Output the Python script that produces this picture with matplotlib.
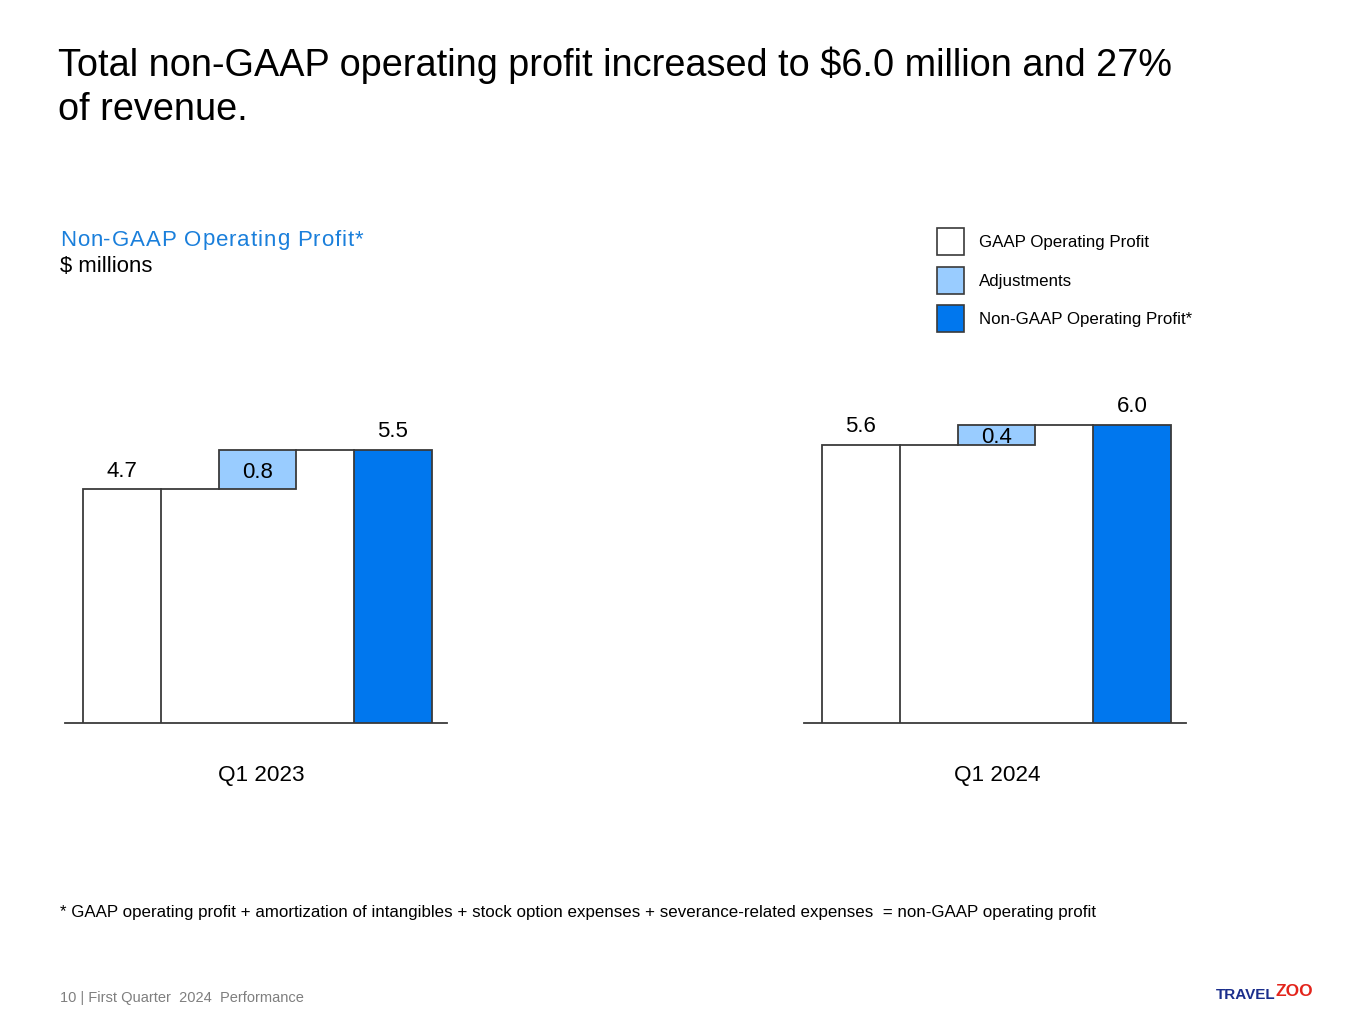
import matplotlib
matplotlib.use("Agg")
import matplotlib.pyplot as plt
from matplotlib.patches import Rectangle

plt.rcParams['font.family'] = ['Liberation Sans', 'DejaVu Sans']

# ---- data ----
periods = ["Q1 2023", "Q1 2024"]
gaap_profit = [4.7, 5.6]
adjustments = [0.8, 0.4]
non_gaap_profit = [5.5, 6.0]
legend_labels = ["GAAP Operating Profit", "Adjustments", "Non-GAAP Operating Profit*"]

title = "Total non-GAAP operating profit increased to $6.0 million and 27%\nof revenue."
subtitle = "Non-GAAP Operating Profit*"
units = "$ millions"
footnote = ("* GAAP operating profit + amortization of intangibles + stock option expenses "
            "+ severance-related expenses  = non-GAAP operating profit")
footer = "10 | First Quarter  2024  Performance"

# ---- styles ----
W, H = 1365, 1024
C_GAAP = "#FFFFFF"
C_ADJ = "#99CCFF"
C_NON = "#0077EE"
EDGE = "#3A3A3A"
BLUE_TXT = "#1A7FDB"

fig = plt.figure(figsize=(W / 100, H / 100), dpi=100)
fig.patch.set_facecolor("white")
renderer = fig.canvas.get_renderer()


def fx(x):
    return x / W


def fy(y):
    return 1 - y / H


def spaced_text(x_px, y_px, s, tracking_px, **kw):
    """Draw text char-by-char with extra letter spacing (pixels)."""
    x = x_px
    for ch in s:
        t = fig.text(fx(x), fy(y_px), ch, ha="left", **kw)
        bb = t.get_window_extent(renderer)
        if ch == " ":
            t2 = fig.text(0, 0, "a a", **kw)
            t3 = fig.text(0, 0, "aa", **kw)
            w = t2.get_window_extent(renderer).width - t3.get_window_extent(renderer).width
            t2.remove()
            t3.remove()
        else:
            w = bb.width
        x += w + tracking_px


# Title
fig.text(fx(58), fy(47), title, fontsize=27.3, va="top", ha="left",
         color="black", linespacing=1.27)
spaced_text(60, 240, subtitle, 0.9, fontsize=16, va="center", color=BLUE_TXT)
fig.text(fx(60), fy(266), units, fontsize=15.9, va="center", ha="left", color="black")

# Legend (manual)
leg_colors = [C_GAAP, C_ADJ, C_NON]
leg_y = [241, 280, 318]
for lab, col, yc in zip(legend_labels, leg_colors, leg_y):
    fig.add_artist(Rectangle((fx(937), fy(yc + 13.5)), 27 / W, 27 / H,
                             transform=fig.transFigure, facecolor=col,
                             edgecolor=EDGE, linewidth=1.2))
    fig.text(fx(979), fy(yc + 1.5), lab, fontsize=12.2, va="center", ha="left")

# Axes for each period
unit_px = 135.5
px_per_val = 49.7
ylim_top = 7.0
bar_w = 77.5 / unit_px
x0, x1 = -0.42, 2.40
ax_w = (x1 - x0) * unit_px
base_y = 723
axes_lefts = [65, 804]
label_x = [261, 997]

for i, p in enumerate(periods):
    left = axes_lefts[i]
    ax = fig.add_axes([fx(left), fy(base_y), ax_w / W, ylim_top * px_per_val / H])
    ax.set_xlim(x0, x1)
    ax.set_ylim(0, ylim_top)
    g, a, n = gaap_profit[i], adjustments[i], non_gaap_profit[i]
    ax.bar([0], [g], width=bar_w, color=C_GAAP, edgecolor=EDGE, linewidth=1.3, zorder=3)
    ax.bar([1], [a], bottom=[g], width=bar_w, color=C_ADJ, edgecolor=EDGE,
           linewidth=1.3, zorder=3)
    ax.bar([2], [n], width=bar_w, color=C_NON, edgecolor=EDGE, linewidth=1.3, zorder=3)
    # connectors
    ax.plot([bar_w / 2, 1 - bar_w / 2], [g, g], color=EDGE, lw=1.3, zorder=2)
    ax.plot([1 + bar_w / 2, 2 - bar_w / 2], [g + a, g + a], color=EDGE, lw=1.3, zorder=2)
    # labels
    ax.annotate(f"{g:.1f}", (0, g), xytext=(0, 13.0), textcoords="offset points",
                ha="center", va="center", fontsize=16)
    ax.annotate(f"{a:.1f}", (1, g + a / 2), xytext=(0, -2.2), textcoords="offset points",
                ha="center", va="center", fontsize=16, zorder=4)
    ax.annotate(f"{n:.1f}", (2, n), xytext=(0, 13.0), textcoords="offset points",
                ha="center", va="center", fontsize=16)
    for s in ["top", "left", "right"]:
        ax.spines[s].set_visible(False)
    ax.spines["bottom"].set_color(EDGE)
    ax.spines["bottom"].set_linewidth(1.3)
    ax.set_xticks([])
    ax.set_yticks([])
    ax.patch.set_alpha(0)
    fig.text(fx(label_x[i]), fy(776), p, fontsize=16.2, ha="center", va="center")

# Footnote and footer
fig.text(fx(60), fy(913), footnote, fontsize=12.2, ha="left", va="center")
fig.text(fx(60), fy(998), footer, fontsize=10.5, ha="left", va="center", color="#7F7F7F")

# Logo
t1 = fig.text(fx(1216), fy(995), "TRAVEL", fontsize=11, fontweight="bold",
              color="#1B2E8C", ha="left", va="center")
bb = t1.get_window_extent(renderer)
fig.text(bb.x1 / W, fy(992), "ZOO", fontsize=12.5, fontweight="bold",
         color="#E3241B", ha="left", va="center")

fig.savefig("out.png", dpi=100)
